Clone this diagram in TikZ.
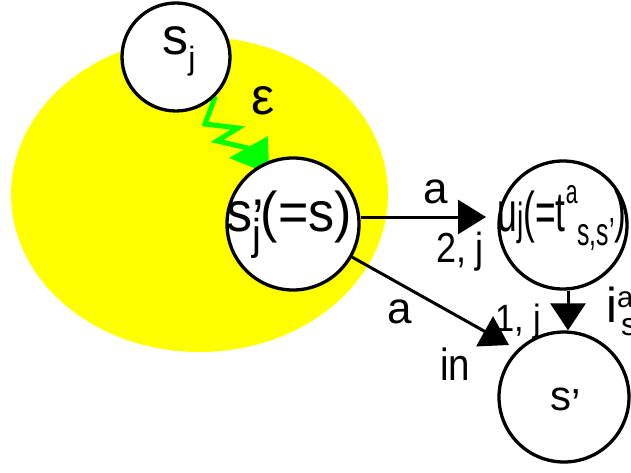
\documentclass[tikz,border=0pt]{standalone}
\usepackage{fontspec}
\setmainfont{Liberation Sans}
\usepackage{graphicx}
\usetikzlibrary{arrows.meta}
\pgfdeclarelayer{background}
\pgfsetlayers{background,main}
\definecolor{zgreen}{RGB}{0,255,0}
\definecolor{zyellow}{RGB}{255,255,0}
\newcommand\mysub[3][0.75]{\raisebox{-#2em}{\scalebox{#1}{#3}}}
\newcommand\mysup[3][0.6]{\raisebox{#2em}{\scalebox{#1}{#3}}}
\newcommand\fs[1]{\fontsize{#1}{#1}\selectfont}
\tikzset{
  state/.style={circle, draw=black, line width=3.3pt, fill=white, inner sep=0pt},
  txt/.style={inner sep=0pt, anchor=base},
  edge/.style={line width=3pt, -{Triangle[length=28pt,width=34pt]}},
  zig/.style={draw=zgreen, line width=5pt, line join=miter},
}
\begin{document}
\begin{tikzpicture}[x=1pt,y=-1pt]
\useasboundingbox (0,0) rectangle (631,473);
% states
\node[state, minimum size=108pt] (sj) at (176,57) {};
\node[state, minimum size=132pt] (sjp) at (293,224) {};
\node[state, minimum size=128pt] (uj) at (563,225) {};
\node[state, minimum size=130pt] (sp) at (564,397) {};
% background: region and epsilon move
\begin{pgfonlayer}{background}
\fill[zyellow] (199.5,194.5) ellipse [x radius=188.5, y radius=157.5];
\draw[zig] (sj.-45) -- (205,124) -- (238,128) -- (217,141) -- (252,149);
\fill[zgreen] (268,136) -- (229,158) -- (269,174) -- cycle;
\end{pgfonlayer}
% connectors
\coordinate (ha) at (486,217);
\coordinate (da) at (509,345);
\coordinate (vx) at (568,0);
\draw[edge] (sjp.east |- ha) -- (ha);
\draw[edge] (sjp) -- (da);
\draw[line width=3pt, -{Triangle[length=27pt,width=35pt]}] (uj.south -| vx) -- (sp.north -| vx);
% texts
\node[txt, font=\fs{52}] (tsj) at (179,55) {s\mysub[0.62]{0.28}{j}};
\node[txt, font=\fs{52}] (teps) at (263,115) {ε};
\node[txt, font=\fs{56}] (tsjp) at (289,231) {\resizebox{126pt}{\height}{s\rlap{\raisebox{-0.14em}{’}}\mysub[0.77]{0.33}{j}(=s)}};
\node[txt, font=\fs{56}] (tuj) at (562,231) {\resizebox{129pt}{\height}{u\mysub[0.8]{0.07}{j}(=t\mysup[0.6]{0.5}{a}\mysub[0.7]{0.26}{s,s’})}};
\node[txt, font=\fs{42}] (tsp) at (566,410) {s\raisebox{-0.2em}{’}};
\node[txt, font=\fs{44}] (la) at (436,203) {a};
\node[txt, font=\fs{42}] (l2j) at (460,262) {\resizebox{48pt}{\height}{2, j}};
\node[txt, font=\fs{44}] (lb) at (400,323) {a};
\node[txt, font=\fs{38}] (l1j) at (518,331) {\resizebox{46pt}{\height}{1, j}};
\node[txt, font=\fs{45}] (lin) at (455,380) {\resizebox{30pt}{\height}{in}};
\node[txt, font=\fs{49}, anchor=base west] (lia) at (606,322) {i\rlap{\mysup[0.6]{0.3}{a}}\hspace{4pt}\mysub[0.65]{0.27}{s}};
\end{tikzpicture}
\end{document}
